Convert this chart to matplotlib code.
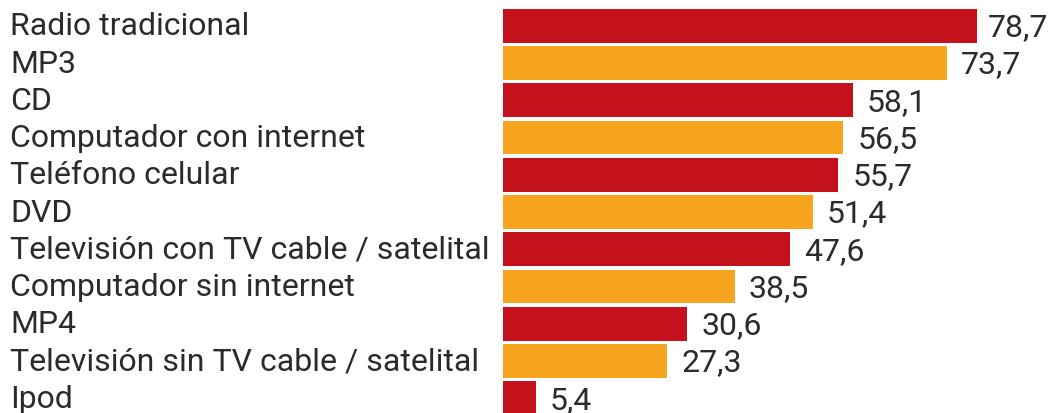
import matplotlib
matplotlib.use("Agg")
import matplotlib.pyplot as plt

categories = ["Radio tradicional", "MP3", "CD", "Computador con internet",
              "Teléfono celular", "DVD", "Televisión con TV cable / satelital",
              "Computador sin internet", "MP4", "Televisión sin TV cable / satelital",
              "Ipod"]
values = [78.7, 73.7, 58.1, 56.5, 55.7, 51.4, 47.6, 38.5, 30.6, 27.3, 5.4]
value_labels = ["78,7", "73,7", "58,1", "56,5", "55,7", "51,4", "47,6", "38,5", "30,6", "27,3", "5,4"]

RED = "#C3121B"
ORANGE = "#F7A51E"
TEXT = "#2b2b2b"

W, H = 1050, 414
fig = plt.figure(figsize=(W / 100, H / 100), dpi=100)
fig.patch.set_facecolor("white")

x0 = 503
ppu = (977 - 503) / 78.7
xmax = (W - x0) / ppu
ax = fig.add_axes([x0 / W, 0, 1 - x0 / W, 1])
pitch = 37.25
c0 = 26.8
ax.set_xlim(0, xmax)
ax.set_ylim((H - c0) / pitch, -c0 / pitch)
ax.axis("off")

colors = [RED if i % 2 == 0 else ORANGE for i in range(len(values))]
ys = list(range(len(values)))
ax.barh(ys, values, height=33.7 / pitch, color=colors, edgecolor="none")

fs = 23
for i, (y, v, lab) in enumerate(zip(ys, values, value_labels)):
    gap = 11 if i == 0 else 14
    ax.annotate(lab, (v, y), xytext=(gap, -1), textcoords="offset pixels",
                ha="left", va="center", fontsize=fs, family="Roboto", color=TEXT)
for y, cat in zip(ys, categories):
    fig.text(10 / W, 1 - (c0 + y * pitch) / H, cat, ha="left", va="center",
             fontsize=fs, family="Roboto", color=TEXT)

fig.savefig("out.png", dpi=100)
